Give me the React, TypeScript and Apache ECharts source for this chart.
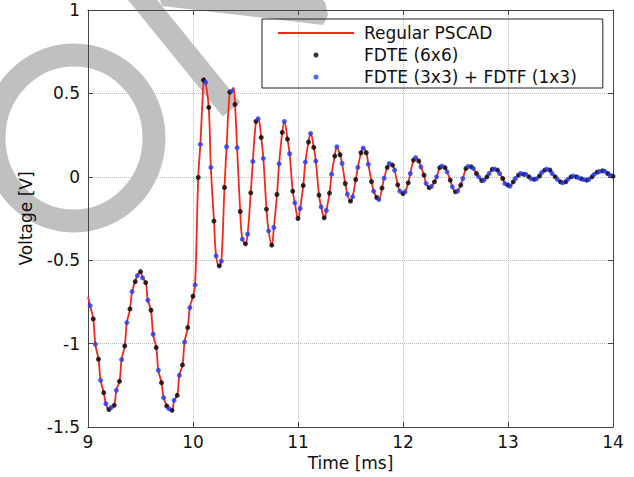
import React, { useEffect, useRef } from "react";
import * as echarts from "echarts";

// FDTE (6x6) samples (black)
const fdte6T = [
  9.05, 9.1, 9.15, 9.2, 9.25, 9.3, 9.35, 9.4, 9.45, 9.5,
  9.55, 9.6, 9.65, 9.7, 9.75, 9.8, 9.85, 9.9, 9.95, 10.0,
  10.05, 10.1, 10.15, 10.2, 10.25, 10.3, 10.35, 10.4, 10.45, 10.5,
  10.55, 10.6, 10.65, 10.7, 10.75, 10.8, 10.85, 10.9, 10.95, 11.0,
  11.05, 11.1, 11.15, 11.2, 11.25, 11.3, 11.35, 11.4, 11.45, 11.5,
  11.55, 11.6, 11.65, 11.7, 11.75, 11.8, 11.85, 11.9, 11.95, 12.0,
  12.05, 12.1, 12.15, 12.2, 12.25, 12.3, 12.35, 12.4, 12.45, 12.5,
  12.55, 12.6, 12.65, 12.7, 12.75, 12.8, 12.85, 12.9, 12.95, 13.0,
  13.05, 13.1, 13.15, 13.2, 13.25, 13.3, 13.35, 13.4, 13.45, 13.5,
  13.55, 13.6, 13.65, 13.7, 13.75, 13.8, 13.85, 13.9, 13.95, 14.0,
];
const fdte6V = [
  -0.852, -1.094, -1.294, -1.395, -1.37, -1.226, -1.014, -0.792, -0.628, -0.568,
  -0.634, -0.8, -1.024, -1.234, -1.374, -1.4, -1.31, -1.128, -0.904, -0.716,
  -0.004, 0.58, 0.416, -0.266, -0.534, -0.064, 0.508, 0.434, -0.208, -0.402,
  -0.096, 0.332, 0.236, -0.194, -0.41, -0.106, 0.266, 0.226, -0.086, -0.25,
  -0.052, 0.208, 0.176, -0.11, -0.246, -0.098, 0.124, 0.132, -0.04, -0.146,
  -0.016, 0.144, 0.144, -0.028, -0.124, -0.068, 0.056, 0.07, -0.048, -0.1,
  -0.036, 0.1, 0.095, 0.01, -0.065, -0.03, 0.055, 0.055, -0.02, -0.09,
  -0.05, 0.05, 0.06, 0.02, -0.022, 0.0, 0.045, 0.04, -0.01, -0.05,
  -0.03, 0.01, 0.015, 0.0, -0.015, 0.005, 0.04, 0.04, 0.0, -0.03,
  -0.03, 0.0, 0.0, -0.012, -0.02, 0.0, 0.028, 0.036, 0.02, 0.004,
];

// FDTE (3x3) + FDTF (1x3) samples (blue)
const fdte3T = [
  9.02, 9.07, 9.12, 9.17, 9.22, 9.27, 9.32, 9.37, 9.42, 9.47,
  9.52, 9.57, 9.62, 9.67, 9.72, 9.77, 9.82, 9.87, 9.92, 9.97,
  10.02, 10.07, 10.12, 10.17, 10.22, 10.27, 10.32, 10.37, 10.42, 10.47,
  10.52, 10.57, 10.62, 10.67, 10.72, 10.77, 10.82, 10.87, 10.92, 10.97,
  11.02, 11.07, 11.12, 11.17, 11.22, 11.27, 11.32, 11.37, 11.42, 11.47,
  11.52, 11.57, 11.62, 11.67, 11.72, 11.77, 11.82, 11.87, 11.92, 11.97,
  12.02, 12.07, 12.12, 12.17, 12.22, 12.27, 12.32, 12.37, 12.42, 12.47,
  12.52, 12.57, 12.62, 12.67, 12.72, 12.77, 12.82, 12.87, 12.92, 12.97,
  13.02, 13.07, 13.12, 13.17, 13.22, 13.27, 13.32, 13.37, 13.42, 13.47,
  13.52, 13.57, 13.62, 13.67, 13.72, 13.77, 13.82, 13.87, 13.92, 13.97,
];
const fdte3V = [
  -0.772, -1.004, -1.22, -1.36, -1.383, -1.28, -1.096, -0.874, -0.688, -0.592,
  -0.606, -0.74, -0.944, -1.16, -1.324, -1.39, -1.34, -1.19, -0.99, -0.784,
  -0.648, 0.194, 0.566, 0.056, -0.474, -0.506, 0.18, 0.514, 0.174, -0.374,
  -0.344, 0.092, 0.348, 0.11, -0.324, -0.304, 0.078, 0.332, 0.138, -0.156,
  -0.19, 0.088, 0.26, 0.094, -0.18, -0.202, 0.016, 0.18, 0.08, -0.104,
  -0.12, 0.056, 0.172, 0.075, -0.086, -0.136, -0.008, 0.08, 0.04, -0.086,
  -0.09, 0.02, 0.115, 0.06, -0.04, -0.058, 0.0, 0.064, 0.03, -0.06,
  -0.085, -0.01, 0.062, 0.05, 0.0, -0.02, 0.02, 0.047, 0.02, -0.04,
  -0.056, -0.01, 0.02, 0.015, -0.012, -0.012, 0.025, 0.046, 0.02, -0.015,
  -0.036, -0.015, 0.004, -0.005, -0.016, -0.015, 0.015, 0.032, 0.034, 0.01,
];

// extra points of the PSCAD curve (start and unsampled peaks)
const pscadExtraT = [9.0, 10.105, 10.385];
const pscadExtraV = [-0.72, 0.592, 0.535];

const seriesNames = ["Regular PSCAD", "FDTE (6x6)", "FDTE (3x3) + FDTF (1x3)"];

export default function App() {
  const ref = useRef<HTMLDivElement>(null);
  useEffect(() => {
    document.body.style.margin = "0";
    const chart = echarts.init(ref.current!, null, { renderer: "svg" });
    const black = fdte6T.map((t, i) => [t, fdte6V[i]]);
    const blue = fdte3T.map((t, i) => [t, fdte3V[i]]);
    const pscad = [
      ...black,
      ...blue,
      ...pscadExtraT.map((t, i) => [t, pscadExtraV[i]]),
    ].sort((a, b) => a[0] - b[0]);
    const font = "DejaVu Sans";
    const axisColor = "#444";
    const textColor = "#111";
    const wm = "#c0c0c0";
    chart.setOption({
      animation: false,
      textStyle: { fontFamily: font },
      grid: { left: 88, right: 21, top: 10, bottom: 50 },
      graphic: {
        elements: [
          {
            type: "ellipse",
            z: -10,
            silent: true,
            shape: { cx: 74, cy: 138, rx: 80, ry: 83 },
            style: { fill: "none", stroke: wm, lineWidth: 23 },
          },
          {
            type: "polygon",
            z: -10,
            silent: true,
            shape: {
              points: [
                [126.2, -38.1],
                [240.3, 102.4],
                [222.7, 116.6],
                [108.6, -23.9],
              ],
            },
            style: { fill: wm },
          },
          {
            type: "polygon",
            z: -10,
            silent: true,
            shape: {
              points: [
                [150, -30],
                [162, 6],
                [323, 25],
                [328, 15],
                [325, 2],
                [310, -10],
                [250, -30],
              ],
            },
            style: { fill: wm },
          },
        ],
      },
      legend: {
        show: true,
        orient: "vertical",
        left: 262,
        top: 19,
        padding: [4, 26, 1, 15],
        itemGap: 2,
        itemWidth: 76,
        itemHeight: 5,
        borderColor: "#222",
        borderWidth: 1,
        backgroundColor: "transparent",
        selectedMode: false,
        textStyle: {
          fontSize: 17,
          color: textColor,
          fontFamily: font,
          lineHeight: 20,
          padding: [0, 0, 0, 5],
        },
        data: [
          { name: seriesNames[0], itemStyle: { opacity: 0 } },
          seriesNames[1],
          seriesNames[2],
        ],
      },
      xAxis: [
        {
          type: "value",
          min: 9,
          max: 14,
          interval: 1,
          position: "bottom",
          name: "Time [ms]",
          nameLocation: "middle",
          nameGap: 27,
          nameTextStyle: { fontSize: 17, color: textColor, fontFamily: font },
          axisLine: { show: true, onZero: false, lineStyle: { color: axisColor, width: 1 } },
          axisTick: { show: true, inside: true, length: 5, lineStyle: { color: axisColor } },
          axisLabel: { fontSize: 17, color: textColor, margin: 6, fontFamily: font },
          splitLine: { show: true, lineStyle: { type: "dotted", color: "#bbb", width: 1 } },
        },
        {
          type: "value",
          min: 9,
          max: 14,
          interval: 1,
          position: "top",
          axisLine: { show: true, onZero: false, lineStyle: { color: axisColor, width: 1 } },
          axisTick: { show: true, inside: true, length: 5, lineStyle: { color: axisColor } },
          axisLabel: { show: false },
          splitLine: { show: false },
        },
      ],
      yAxis: [
        {
          type: "value",
          min: -1.5,
          max: 1,
          interval: 0.5,
          position: "left",
          name: "Voltage [V]",
          nameLocation: "middle",
          nameRotate: 90,
          nameGap: 54,
          nameTextStyle: { fontSize: 17, color: textColor, fontFamily: font },
          axisLine: { show: true, onZero: false, lineStyle: { color: axisColor, width: 1 } },
          axisTick: { show: true, inside: true, length: 5, lineStyle: { color: axisColor } },
          axisLabel: { fontSize: 17, color: textColor, margin: 8, fontFamily: font },
          splitLine: { show: true, lineStyle: { type: "dotted", color: "#bbb", width: 1 } },
        },
        {
          type: "value",
          min: -1.5,
          max: 1,
          interval: 0.5,
          position: "right",
          axisLine: { show: true, onZero: false, lineStyle: { color: axisColor, width: 1 } },
          axisTick: { show: true, inside: true, length: 5, lineStyle: { color: axisColor } },
          axisLabel: { show: false },
          splitLine: { show: false },
        },
      ],
      series: [
        {
          name: seriesNames[0],
          type: "line",
          xAxisIndex: 0,
          yAxisIndex: 0,
          data: pscad,
          smooth: 0.4,
          symbol: "none",
          lineStyle: { color: "#f5281a", width: 1.8 },
          itemStyle: { color: "#f5281a" },
          z: 2,
        },
        {
          name: seriesNames[1],
          type: "scatter",
          xAxisIndex: 0,
          yAxisIndex: 0,
          data: black,
          symbolSize: 5,
          itemStyle: { color: "#000000" },
          z: 3,
        },
        {
          name: seriesNames[2],
          type: "scatter",
          xAxisIndex: 0,
          yAxisIndex: 0,
          data: blue,
          symbolSize: 5,
          itemStyle: { color: "#1e3cff" },
          z: 4,
        },
      ],
    });
    return () => chart.dispose();
  }, []);
  return <div ref={ref} style={{ width: 634, height: 477 }} />;
}
